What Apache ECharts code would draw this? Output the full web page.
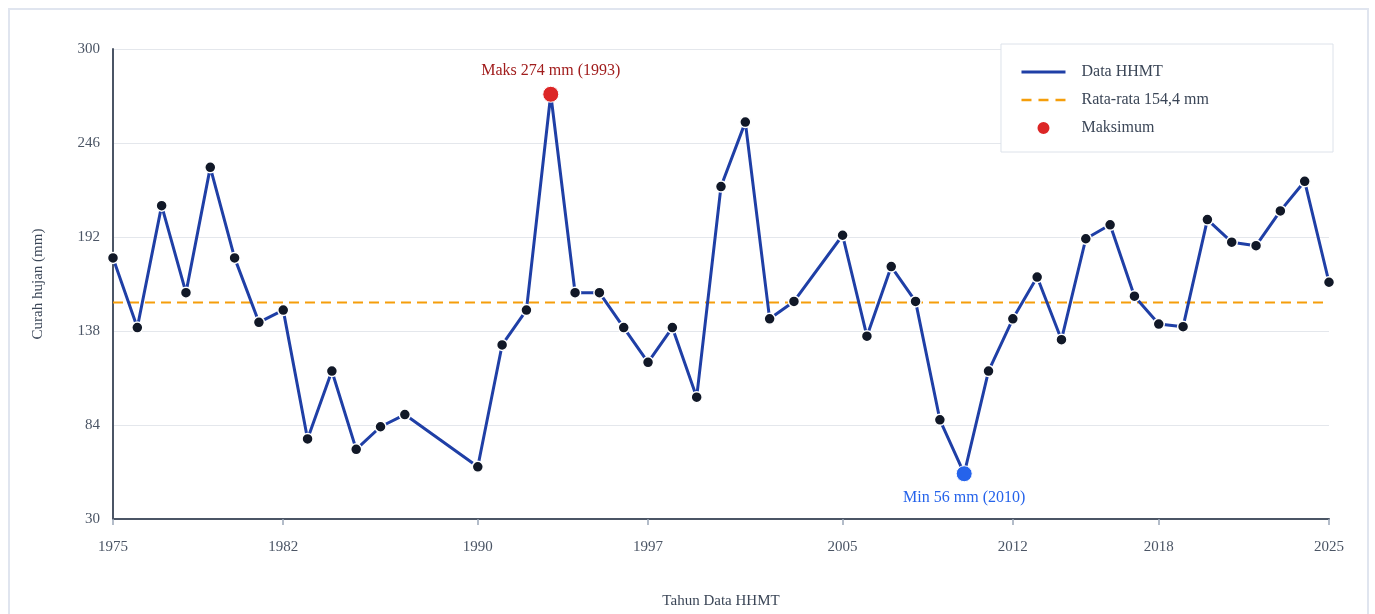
<!DOCTYPE html>
<html>
<head>
<meta charset="utf-8">
<script src="https://cdn.jsdelivr.net/npm/echarts@6/dist/echarts.min.js"></script>
<style>
html,body{margin:0;padding:0;background:#fff;}
#frame{position:absolute;left:8px;top:8px;width:1361px;height:640px;border:2px solid #e0e5ef;box-sizing:border-box;}
#chart{position:absolute;left:0;top:0;width:1375px;height:614px;}
</style>
</head>
<body>
<div id="frame"></div>
<div id="chart"></div>
<script>
const years = [1975,1976,1977,1978,1979,1980,1981,1982,1983,1984,1985,1986,1987,
  1990,1991,1992,1993,1994,1995,1996,1997,1998,1999,2000,2001,2002,2003,
  2005,2006,2007,2008,2009,2010,2011,2012,2013,2014,2015,2016,2017,2018,2019,2020,2021,2022,2023,2024,2025];
const rainfall = [180,140,210,160,232,180,143,150,76,115,70,83,90,
  60,130,150,274,160,160,140,120,140,100,221,258,145,155,
  193,135,175,155,87,56,115,145,169,133,191,199,158,142,140.5,202,189,187,207,224,166];
const xTickYears = [1975,1982,1990,1997,2005,2012,2018,2025];
const meanValue = 154.4;
const maxPoint = [1993, 274];
const minPoint = [2010, 56];

const FONT = '"Liberation Serif", "Times New Roman", serif';
const chart = echarts.init(document.getElementById('chart'));
chart.setOption({
  backgroundColor: 'transparent',
  textStyle: {fontFamily: FONT},
  grid: {left: 113, right: 46, top: 49, bottom: 95},
  legend: {
    orient: 'vertical',
    right: 42, top: 44,
    padding: [20, 124, 16, 19],
    itemWidth: 44, itemHeight: 14, itemGap: 12,
    backgroundColor: '#fff',
    borderColor: '#dde2ea', borderWidth: 1,
    textStyle: {fontFamily: FONT, fontSize: 16, color: '#3b4657', padding: [0,0,0,11]},
    data: [
      {name: 'Data HHMT', itemStyle: {opacity: 0}, lineStyle: {width: 3, color: '#1f3fa6'}},
      {name: 'Rata-rata 154,4 mm', itemStyle: {opacity: 0}, lineStyle: {width: 2.5, color: '#f59e0b', type: [10, 7]}},
      {name: 'Maksimum'}
    ]
  },
  xAxis: {
    type: 'value', min: 1975, max: 2025,
    name: 'Tahun Data HHMT', nameLocation: 'middle', nameGap: 75,
    nameTextStyle: {fontFamily: FONT, fontSize: 15, color: '#3b4657'},
    axisLine: {lineStyle: {color: '#4b5565', width: 2}},
    axisTick: {show: true, length: 6, customValues: xTickYears, lineStyle: {color: '#9aa6b8', width: 1.5}},
    axisLabel: {customValues: xTickYears, margin: 21, fontFamily: FONT, fontSize: 15, color: '#4b5565', formatter: v => String(v)},
    splitLine: {show: false}
  },
  yAxis: {
    type: 'value', min: 30, max: 300, interval: 54,
    name: 'Curah hujan (mm)', nameLocation: 'middle', nameGap: 67, nameRotate: 90,
    nameTextStyle: {fontFamily: FONT, fontSize: 15, color: '#3b4657'},
    axisLine: {show: true, lineStyle: {color: '#4b5565', width: 2}},
    axisTick: {show: false},
    axisLabel: {margin: 13, fontFamily: FONT, fontSize: 15, color: '#4b5565'},
    splitLine: {lineStyle: {color: '#e4e7ec', width: 1}}
  },
  series: [
    {
      name: 'Rata-rata 154,4 mm', type: 'line', z: 2,
      data: [[1975, meanValue], [2025, meanValue]],
      symbol: 'none',
      lineStyle: {color: '#f59e0b', width: 2, type: [10, 6]},
      itemStyle: {color: '#f59e0b'},
      silent: true
    },
    {
      name: 'Data HHMT', type: 'line', z: 3,
      data: years.map((y, i) => [y, rainfall[i]]),
      symbol: 'circle', symbolSize: 11, showSymbol: true,
      lineStyle: {color: '#1f3fa6', width: 3},
      itemStyle: {color: '#111827', borderColor: '#ffffff', borderWidth: 1.5}
    },
    {
      name: 'Maksimum', type: 'scatter', z: 5,
      data: [maxPoint],
      symbolSize: 16,
      itemStyle: {color: '#dc2626', opacity: 1, borderColor: '#fff', borderWidth: 1},
      label: {show: true, position: 'top', distance: 7, formatter: 'Maks 274 mm (1993)',
        fontFamily: FONT, fontSize: 16, color: '#a11d1d'}
    },
    {
      name: 'Minimum', type: 'scatter', z: 5,
      data: [minPoint],
      symbolSize: 16,
      itemStyle: {color: '#2563eb', opacity: 1, borderColor: '#fff', borderWidth: 1},
      label: {show: true, position: 'bottom', distance: 8, formatter: 'Min 56 mm (2010)',
        fontFamily: FONT, fontSize: 16, color: '#2563eb'}
    }
  ]
});
</script>
</body>
</html>
